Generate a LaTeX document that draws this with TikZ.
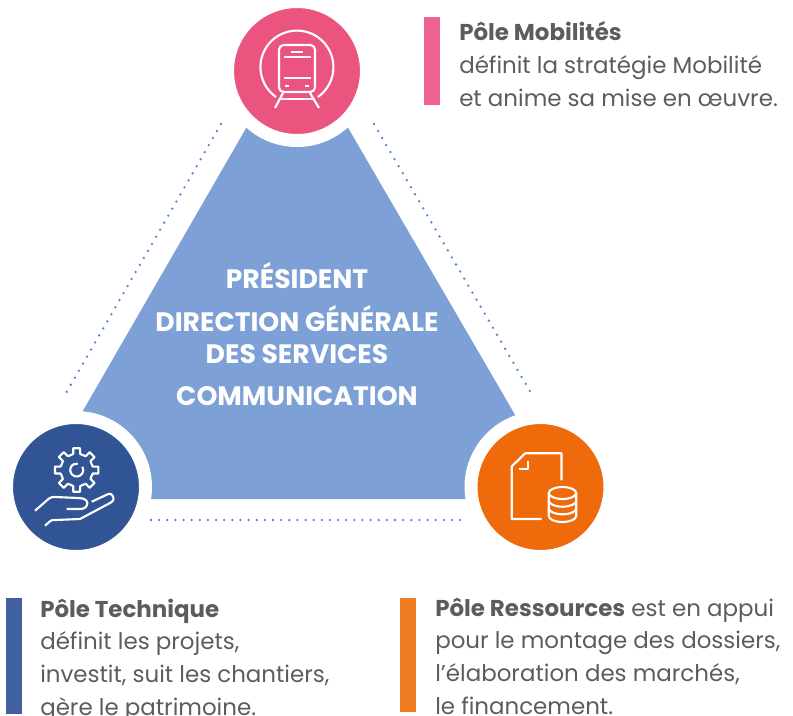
\documentclass[tikz,border=0pt]{standalone}
\usepackage{fontspec}
\setmainfont{Poppins}
\definecolor{polepink}{HTML}{EC5480}
\definecolor{poleblue}{HTML}{315495}
\definecolor{poleorange}{HTML}{EE6A0A}
\definecolor{barpink}{HTML}{EE6490}
\definecolor{barblue}{HTML}{4060A0}
\definecolor{barorange}{HTML}{F07C22}
\definecolor{triblue}{HTML}{7DA0D6}
\definecolor{dotblue}{HTML}{4A84CC}
\definecolor{textgrey}{HTML}{5C5C5A}
\tikzset{
  pole/.style={circle, draw=white, line width=9.75pt, minimum size=104.25pt, inner sep=0pt},
  icon/.style={draw=white, line width=1.6pt, line join=round},
  dots/.style={dotblue, line width=1.9pt, line cap=round, dash pattern=on 0pt off 6.1pt},
  bar/.style={minimum width=12pt, inner sep=0pt, anchor=north west},
  chief/.style={white, font=\fontsize{20}{24}\selectfont\bfseries, inner sep=0pt, anchor=base},
  note/.style={textgrey, font=\fontsize{17.2}{24.4}\selectfont, align=left, inner sep=0pt, anchor=base west}
}
\begin{document}
\begin{tikzpicture}[x=0.75pt, y=-0.75pt]
  \useasboundingbox (0,0) rectangle (793,715);
  \coordinate (apex) at (297,40);
  \coordinate (left) at (32,499);
  \coordinate (right) at (564,499);
  \fill [triblue] (apex) -- (left) -- (right) -- cycle;

  \node [pole, fill=polepink] (mobilites) at (297,71) {};
  \node [pole, fill=poleblue] (technique) at (76,487) {};
  \node [pole, fill=poleorange] (ressources) at (540.5,487) {};

  \coordinate (la) at (221,124);
  \coordinate (lb) at (66,393);
  \coordinate (ra) at (374,124);
  \coordinate (rb) at (531,393);
  \coordinate (ba) at (151,520);
  \coordinate (bb) at (465,520);
  \draw [dots] (la) -- (lb);
  \draw [dots] (ra) -- (rb);
  \draw [dots] (ba) -- (bb);

  \node [chief] (president) at (297,288) {PRÉSIDENT};
  \node [chief] (direction) at (297,331) {DIRECTION GÉNÉRALE};
  \node [chief] (services) at (297,363) {DES SERVICES};
  \node [chief] (communication) at (297,405) {COMMUNICATION};

  % train
  \begin{scope}[shift={(mobilites.center)}]
    \draw [icon] (-21,26) arc [start angle=125, end angle=415, radius=36.5];
    \draw [icon, rounded corners=3.5pt] (-18,-26) rectangle (18,21);
    \draw [icon] (-13,-14) -- (14,-14);
    \draw [icon] (-13,7) -- (14,7);
    \draw [icon] (-6,-19) -- (6,-19);
    \draw [icon] (-12,15) -- (-8,15);
    \draw [icon] (8,15) -- (12,15);
    \draw [icon] (-14,22) -- (-22,37);
    \draw [icon] (13,22) -- (22,37);
    \draw [icon] (-18,28) -- (18,28);
  \end{scope}

  % gear and hand
  \begin{scope}[shift={(technique.center)}]
    \begin{scope}[shift={(0.7,-17)}]
      \foreach \a in {0,45,...,315} {
        \draw [icon] (\a-22.5:16) -- (\a-12:16.5) -- (\a-9:22) -- (\a+9:22) -- (\a+12:16.5) -- (\a+22.5:16);
      }
      \draw [icon] (-30:6.5) arc [start angle=-30, end angle=280, radius=6.5];
    \end{scope}
    \draw [icon] (-41,23.7) -- (-26.7,11.3) .. controls (-25,10) and (-23,10) .. (-21,10) -- (2.3,11)
      .. controls (9,11) and (12,14) .. (11.3,16.7) .. controls (11,20) and (8,22) .. (4,22) -- (-9.3,22);
    \draw [icon] (-31,38.7) -- (-26,34.3) .. controls (-25,33) and (-23,33) .. (-21,33) -- (4,32) -- (34,16)
      .. controls (38,14) and (38,11) .. (37.3,10.3) .. controls (36,7) and (34,6) .. (32.3,7) -- (15.7,14.7);
  \end{scope}

  % document and database
  \begin{scope}[shift={(ressources.center)}]
    \draw [icon] (1,32) -- (-28.7,32) -- (-28.7,-20.7) -- (-15.3,-33.7) -- (21,-33.7) -- (21,-6.7);
    \draw [icon] (-21.3,-17.7) -- (-12.3,-17.7) -- (-12.3,-26.3);
    \draw [icon] (22,6) ellipse [x radius=13.7, y radius=6];
    \draw [icon] (8.3,6) -- (8.3,29) arc [start angle=180, end angle=0, x radius=13.7, y radius=6] -- (35.7,6);
    \draw [icon] (8.3,13.7) arc [start angle=180, end angle=0, x radius=13.7, y radius=6];
    \draw [icon] (8.3,21.3) arc [start angle=180, end angle=0, x radius=13.7, y radius=6];
  \end{scope}

  \node [bar, fill=barpink, minimum height=66pt] (barm) at (424,17) {};
  \node [bar, fill=barblue, minimum height=87pt] (bart) at (6,598) {};
  \node [bar, fill=barorange, minimum height=85.5pt] (barr) at (400,598) {};

  \node [note] (notem) at (459,106) {\textbf{Pôle Mobilités}\\définit la stratégie Mobilité\\et anime sa mise en œuvre.};
  \node [note] (notet) at (40,715) {\textbf{Pôle Technique}\\définit les projets,\\investit, suit les chantiers,\\gère le patrimoine.};
  \node [note] (noter) at (435,714) {\textbf{Pôle Ressources} est en appui\\pour le montage des dossiers,\\l’élaboration des marchés,\\le financement.};
\end{tikzpicture}
\end{document}
